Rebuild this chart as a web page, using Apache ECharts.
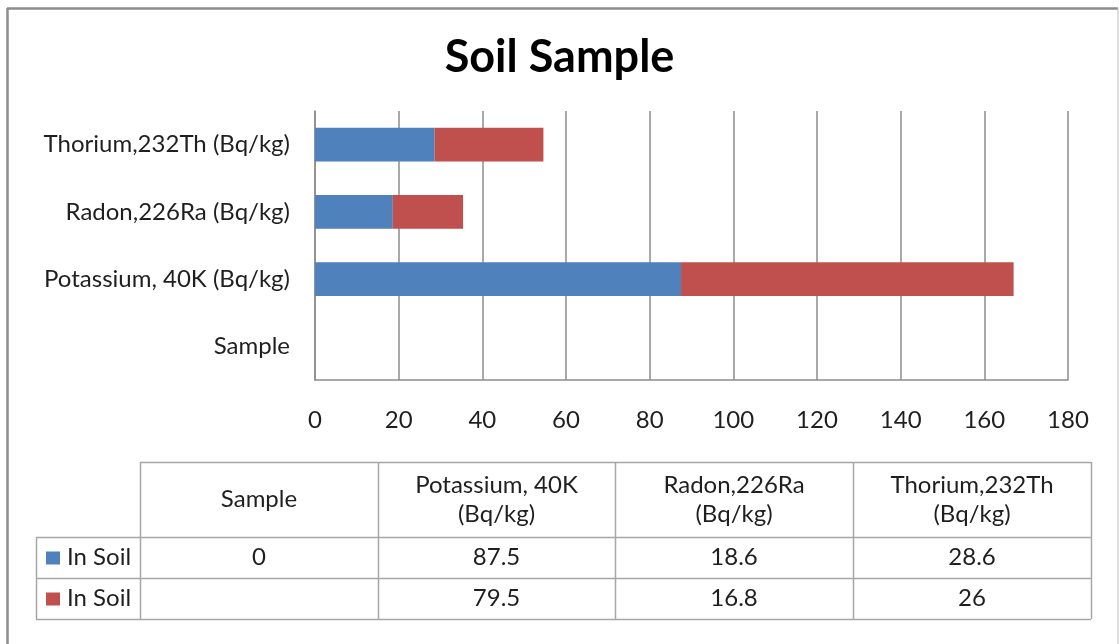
<!DOCTYPE html>
<html>
<head>
<meta charset="utf-8">
<title>Soil Sample</title>
<script src="https://cdn.jsdelivr.net/npm/echarts@6/dist/echarts.min.js"></script>
<style>
  html, body { margin: 0; padding: 0; background: #fff; }
  #chart { width: 1119px; height: 644px; }
</style>
</head>
<body>
<div id="chart"></div>
<script>
// Categories, bottom to top on the value bars
const categories = ['Sample', 'Potassium, 40K (Bq/kg)', 'Radon,226Ra (Bq/kg)', 'Thorium,232Th (Bq/kg)'];
const seriesNames = ['In Soil', 'In Soil'];
const soilFirst = [0, 87.5, 18.6, 28.6];
const soilSecond = [null, 79.5, 16.8, 26];
const xTicks = [0, 20, 40, 60, 80, 100, 120, 140, 160, 180];

const colors = ['#4F81BD', '#C0504D'];
const FONT = 'Lato';
const TEXT = '#1f1f1f';
const LINE = '#a6a6a6';
const FS = 24;

const chart = echarts.init(document.getElementById('chart'), null, { renderer: 'canvas' });

// ---- data table under the chart ----
const colX = [36, 140, 378, 615, 853, 1091];   // column boundaries
const rowY = [462, 537, 578, 619];              // row boundaries
const graphics = [];

function hLine(x1, x2, y) {
  graphics.push({ type: 'line', shape: { x1, y1: y + 0.5, x2, y2: y + 0.5 },
    style: { stroke: LINE, lineWidth: 1.5 }, silent: true });
}
function vLine(x, y1, y2) {
  graphics.push({ type: 'line', shape: { x1: x + 0.5, y1, x2: x + 0.5, y2 },
    style: { stroke: LINE, lineWidth: 1.5 }, silent: true });
}
function cellText(text, cx, cy) {
  graphics.push({ type: 'text', x: cx, y: cy, silent: true,
    style: { text, fill: TEXT, font: FS + 'px ' + FONT, align: 'center', verticalAlign: 'middle', lineHeight: 29 } });
}

// outer frame
graphics.push({ type: 'line', shape: { x1: 7.5, y1: 8, x2: 7.5, y2: 644 }, style: { stroke: '#8c8c8c', lineWidth: 2.5 }, silent: true });
graphics.push({ type: 'line', shape: { x1: 7, y1: 8.5, x2: 1118, y2: 8.5 }, style: { stroke: '#8c8c8c', lineWidth: 2.5 }, silent: true });
graphics.push({ type: 'line', shape: { x1: 1118, y1: 8, x2: 1118, y2: 644 }, style: { stroke: '#bdbdbd', lineWidth: 1 }, silent: true });

// grid lines of the table
hLine(colX[1], colX[5], rowY[0]);
hLine(colX[0], colX[5], rowY[1]);
hLine(colX[0], colX[5], rowY[2]);
hLine(colX[0], colX[5], rowY[3]);
vLine(colX[0], rowY[1], rowY[3]);
for (let i = 1; i < colX.length; i++) vLine(colX[i], rowY[0], rowY[3]);

// header cells: category names, units on a second line
categories.forEach((c, i) => {
  const label = c.replace(' (Bq/kg)', '\n(Bq/kg)');
  cellText(label, (colX[i + 1] + colX[i + 2]) / 2, (rowY[0] + rowY[1]) / 2);
});

// value rows with legend keys
[soilFirst, soilSecond].forEach((row, r) => {
  const cy = (rowY[r + 1] + rowY[r + 2]) / 2;
  graphics.push({ type: 'rect', shape: { x: 46, y: cy - 6, width: 14, height: 13 },
    style: { fill: colors[r] }, silent: true });
  graphics.push({ type: 'text', x: 67, y: cy, silent: true,
    style: { text: seriesNames[r], fill: TEXT, font: FS + 'px ' + FONT, align: 'left', verticalAlign: 'middle' } });
  row.forEach((v, i) => {
    cellText(v === null ? '' : String(v), (colX[i + 1] + colX[i + 2]) / 2, cy);
  });
});

const option = {
  animation: false,
  backgroundColor: '#ffffff',
  title: {
    text: 'Soil Sample',
    left: 'center',
    top: 30,
    textStyle: { fontFamily: FONT, fontWeight: 'bold', fontSize: 45, color: '#000' }
  },
  grid: { left: 315, right: 51, top: 111, bottom: 264, containLabel: false },
  xAxis: {
    type: 'value',
    min: xTicks[0],
    max: xTicks[xTicks.length - 1],
    interval: xTicks[1] - xTicks[0],
    axisLine: { show: true, lineStyle: { color: '#8c8c8c', width: 1.5 } },
    axisTick: { show: false },
    axisLabel: { margin: 28, fontFamily: FONT, fontSize: FS, color: TEXT },
    splitLine: { show: true, lineStyle: { color: '#8c8c8c', width: 1.5 } }
  },
  yAxis: {
    type: 'category',
    data: categories,
    axisLine: { show: true, lineStyle: { color: '#8c8c8c', width: 1.5 } },
    axisTick: { show: false },
    axisLabel: { margin: 25, fontFamily: FONT, fontSize: FS, color: TEXT },
    splitLine: { show: false }
  },
  series: [
    { name: seriesNames[0], type: 'bar', stack: 'soil', data: soilFirst, barWidth: '50%',
      itemStyle: { color: colors[0] } },
    { name: seriesNames[1], type: 'bar', stack: 'soil', data: soilSecond, barWidth: '50%',
      itemStyle: { color: colors[1] } }
  ],
  graphic: graphics
};

chart.setOption(option);
</script>
</body>
</html>
